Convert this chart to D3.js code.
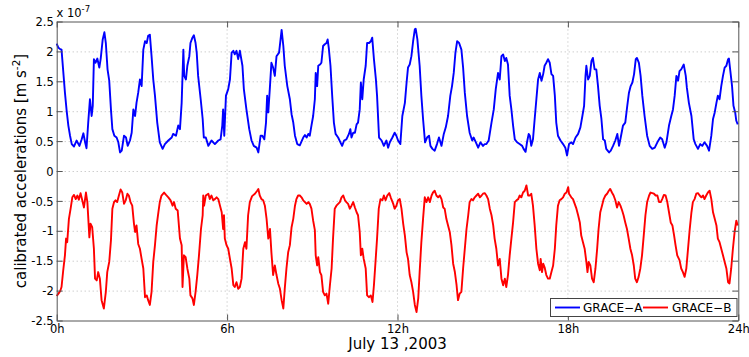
<!DOCTYPE html>
<html>
<head>
<meta charset="utf-8">
<script src="https://cdn.jsdelivr.net/npm/d3@7"></script>
<style>
  body { margin: 0; background: #fff; }
  svg { display: block; }
  text { font-family: "DejaVu Sans", sans-serif; fill: #000; }
</style>
</head>
<body>
<svg id="chart" width="749" height="357"></svg>
<script>
// Calibrated accelerations of GRACE-A and GRACE-B on 13 July 2003
// time in hours of the day, acceleration in units of 1e-7 m/s^2

const hourTicks = [0, 6, 12, 18, 24];
const hourTickLabels = ["0h", "6h", "12h", "18h", "24h"];
const accTicks = [-2.5, -2, -1.5, -1, -0.5, 0, 0.5, 1, 1.5, 2, 2.5];
const accTickLabels = ["-2.5", "-2", "-1.5", "-1", "-0.5", "0", "0.5", "1", "1.5", "2", "2.5"];
const seriesNames = ["GRACE\u2212A", "GRACE\u2212B"];
const seriesColors = ["#0000ff", "#ff0000"];

// GRACE-A: [hour, acceleration]
const graceA = [
  [0.00,2.13],[0.06,2.06],[0.12,2.04],[0.17,2.03],[0.23,1.67],[0.29,1.31],[0.35,1.01],[0.41,0.76],[0.47,0.59],[0.53,0.45],
  [0.61,0.41],[0.70,0.51],[0.80,0.42],[0.88,0.53],[0.94,0.63],[1.00,0.48],[1.05,0.38],[1.11,0.81],[1.17,1.20],[1.23,0.92],
  [1.27,1.09],[1.31,1.87],[1.37,1.81],[1.43,1.88],[1.50,1.73],[1.55,1.88],[1.62,2.20],[1.68,2.32],[1.73,2.14],[1.79,1.70],
  [1.85,1.51],[1.91,1.03],[1.96,0.70],[2.03,0.59],[2.11,0.56],[2.17,0.48],[2.23,0.31],[2.29,0.34],[2.37,0.59],[2.44,0.56],
  [2.50,0.42],[2.58,0.51],[2.64,0.64],[2.70,1.03],[2.76,0.92],[2.81,1.14],[2.87,1.31],[2.93,1.53],[2.99,1.42],[3.05,2.03],
  [3.11,2.17],[3.17,2.14],[3.22,2.26],[3.28,2.28],[3.34,1.92],[3.40,1.53],[3.46,1.26],[3.54,0.81],[3.63,0.48],[3.73,0.37],
  [3.81,0.45],[3.93,0.51],[4.05,0.56],[4.10,0.62],[4.20,0.59],[4.28,0.76],[4.34,0.70],[4.40,1.14],[4.46,2.03],[4.49,1.59],
  [4.55,1.53],[4.60,1.76],[4.67,1.92],[4.71,2.14],[4.78,2.23],[4.83,2.27],[4.89,2.14],[4.93,1.98],[4.98,1.59],[5.07,1.20],
  [5.14,0.87],[5.18,0.56],[5.25,0.56],[5.34,0.42],[5.45,0.51],[5.57,0.45],[5.69,0.51],[5.77,0.53],[5.83,0.76],[5.86,1.03],
  [5.90,0.59],[5.96,1.26],[6.04,1.37],[6.10,1.53],[6.16,1.98],[6.22,2.01],[6.27,1.95],[6.33,2.01],[6.39,1.87],[6.45,2.01],
  [6.54,1.76],[6.59,1.37],[6.68,1.03],[6.78,0.70],[6.86,0.51],[6.94,0.42],[7.04,0.39],[7.10,0.31],[7.18,0.59],[7.24,0.59],
  [7.31,0.53],[7.37,0.81],[7.41,1.26],[7.45,0.98],[7.51,1.42],[7.56,1.81],[7.62,1.73],[7.68,1.59],[7.74,1.92],[7.83,1.98],
  [7.92,2.36],[7.98,2.09],[8.03,1.76],[8.12,1.42],
  [8.21,1.20],[8.27,0.95],[8.33,0.81],[8.39,0.59],[8.47,0.45],[8.56,0.43],[8.68,0.56],[8.74,0.60],[8.80,0.56],[8.86,0.62],
  [8.91,0.59],[8.97,0.76],[9.03,0.92],[9.09,1.20],[9.12,1.64],[9.17,1.42],[9.21,1.76],[9.27,1.78],[9.32,1.81],[9.38,2.09],
  [9.44,2.12],[9.50,2.14],[9.54,2.20],[9.58,2.06],[9.64,1.76],[9.70,1.26],[9.76,0.81],[9.82,0.62],[9.91,0.56],[9.99,0.48],
  [10.05,0.42],[10.12,0.51],[10.20,0.53],[10.29,0.62],[10.34,0.70],[10.38,0.56],[10.44,0.64],[10.50,0.64],[10.56,0.78],[10.61,0.81],
  [10.67,1.03],[10.71,1.48],[10.76,1.20],[10.81,1.53],[10.88,1.76],[10.93,2.14],[11.00,2.14],[11.06,2.17],[11.11,2.23],[11.17,1.87],
  [11.24,1.53],[11.28,1.26],[11.35,0.56],[11.44,0.51],[11.52,0.42],[11.61,0.51],[11.67,0.39],[11.73,0.48],[11.82,0.56],[11.90,0.64],
  [11.96,0.59],[12.02,0.51],[12.10,0.45],[12.17,0.92],[12.26,1.14],[12.32,1.48],[12.37,1.73],[12.43,1.78],[12.49,1.92],[12.55,2.17],
  [12.61,2.37],[12.64,2.38],[12.70,2.20],[12.78,1.76],[12.84,1.26],[12.90,0.87],[12.97,0.48],[13.04,0.56],[13.11,0.59],[13.16,0.42],
  [13.23,0.37],[13.31,0.34],[13.39,0.45],[13.46,0.56],[13.55,0.42],[13.63,0.62],[13.70,0.73],[13.78,0.92],[13.86,1.26],[13.92,1.42],
  [13.98,1.64],[14.04,1.98],[14.10,2.17],[14.17,2.14],[14.25,2.03],[14.31,1.73],[14.37,1.31],[14.45,0.92],[14.54,0.64],[14.63,0.51],
  [14.68,0.56],[14.76,0.48],[14.84,0.39],[14.92,0.48],[15.01,0.42],[15.07,0.45],[15.13,0.45],[15.21,0.51],[15.31,0.81],[15.39,1.03],
  [15.46,1.37],[15.54,1.64],[15.60,1.53],[15.66,1.92],[15.72,1.95],[15.78,1.84],[15.83,1.89],[15.89,1.78],[15.95,1.26],[16.01,1.03],
  [16.07,0.76],[16.13,0.53],[16.21,0.48],[16.30,0.45],[16.39,0.42],[16.44,0.37],[16.51,0.32],[16.56,0.48],[16.62,0.62],
  [16.66,0.59],[16.71,0.42],[16.77,0.53],[16.83,0.87],[16.89,1.20],[16.95,1.53],[17.01,1.64],[17.07,1.51],[17.13,1.62],[17.18,1.76],
  [17.24,1.81],[17.30,1.87],[17.36,1.81],[17.42,1.62],[17.48,1.59],[17.54,1.26],[17.59,0.81],[17.65,0.59],[17.74,0.51],[17.83,0.45],
  [17.91,0.39],[17.97,0.26],[18.04,0.45],[18.12,0.48],[18.18,0.45],[18.27,0.56],[18.36,0.62],[18.44,0.73],[18.51,0.92],[18.57,1.09],
  [18.62,1.59],[18.65,1.76],[18.71,1.53],[18.77,1.59],[18.83,1.84],[18.88,1.89],[18.94,1.70],[19.00,1.70],[19.06,1.42],[19.12,1.09],
  [19.18,0.87],[19.24,0.53],[19.30,0.51],[19.35,0.37],[19.45,0.31],[19.51,0.34],[19.59,0.42],[19.67,0.51],[19.74,0.62],[19.80,0.42],
  [19.86,0.56],[19.94,0.76],[20.02,0.81],[20.09,1.09],[20.15,1.31],[20.21,1.42],[20.27,1.48],[20.33,1.62],[20.39,1.87],[20.43,1.89],
  [20.50,1.81],[20.56,1.59],[20.62,1.26],[20.70,0.92],[20.79,0.59],[20.88,0.42],[20.97,0.37],[21.06,0.39],[21.15,0.48],[21.25,0.56],
  [21.32,0.53],[21.41,0.39],[21.47,0.48],[21.56,0.76],[21.64,0.92],[21.70,1.03],[21.76,1.26],[21.82,1.59],[21.88,1.51],[21.93,1.67],
  [21.99,1.70],[22.08,1.78],[22.15,1.59],[22.19,1.39],[22.26,1.14],[22.35,0.92],[22.43,0.53],[22.49,0.45],[22.58,0.37],[22.66,0.45],
  [22.73,0.42],[22.81,0.48],[22.90,0.42],[22.97,0.34],[23.05,0.59],[23.11,0.87],[23.17,0.98],[23.23,1.14],[23.28,1.26],[23.34,1.20],
  [23.40,1.42],[23.46,1.59],[23.52,1.73],[23.58,1.76],[23.64,1.87],[23.67,1.88],[23.72,1.67],[23.78,1.42],[23.83,1.09],[23.89,0.98],
  [23.93,0.84],[23.98,0.78]
];

// GRACE-B: [hour, acceleration]
const graceB = [
  [0.00,-2.09],[0.06,-2.05],[0.12,-2.01],[0.17,-1.94],[0.23,-1.66],[0.29,-1.41],[0.33,-1.13],[0.37,-1.19],[0.43,-0.80],[0.49,-0.63],
  [0.55,-0.44],[0.61,-0.40],[0.67,-0.47],[0.73,-0.41],[0.78,-0.48],[0.84,-0.37],[0.90,-0.49],[0.96,-0.61],[1.03,-0.36],[1.08,-0.52],
  [1.15,-1.11],[1.19,-0.88],[1.25,-0.94],[1.31,-1.30],[1.35,-1.80],[1.41,-1.83],[1.46,-1.69],[1.52,-1.80],[1.58,-2.16],[1.66,-2.30],
  [1.73,-2.02],[1.78,-1.69],[1.85,-1.52],[1.91,-1.16],[1.96,-0.63],[2.02,-0.52],[2.07,-0.49],[2.13,-0.52],[2.19,-0.41],[2.25,-0.31],
  [2.31,-0.36],[2.37,-0.55],[2.43,-0.49],[2.49,-0.38],[2.54,-0.41],[2.60,-0.52],[2.66,-0.58],[2.72,-0.88],[2.76,-1.02],[2.81,-0.91],
  [2.87,-1.22],[2.93,-1.30],[2.99,-1.47],[3.05,-1.63],[3.11,-2.11],[3.17,-2.08],[3.22,-2.16],[3.28,-2.24],[3.34,-2.02],[3.40,-1.52],
  [3.46,-1.24],[3.52,-0.91],[3.58,-0.69],[3.63,-0.52],[3.69,-0.41],[3.78,-0.36],[3.85,-0.40],[3.93,-0.44],[4.01,-0.49],[4.08,-0.58],
  [4.13,-0.52],[4.19,-0.63],[4.26,-0.66],[4.34,-1.13],[4.40,-1.24],[4.43,-1.94],[4.48,-1.41],[4.54,-1.44],[4.60,-1.63],[4.67,-1.80],
  [4.71,-2.08],[4.78,-2.13],[4.83,-2.24],[4.89,-2.02],[4.95,-1.74],[5.01,-1.41],[5.08,-0.97],[5.14,-0.74],[5.16,-0.41],[5.19,-0.58],
  [5.25,-0.41],[5.34,-0.38],[5.39,-0.47],[5.45,-0.41],[5.51,-0.49],[5.57,-0.47],[5.63,-0.44],[5.69,-0.47],[5.75,-0.58],[5.81,-0.69],
  [5.86,-0.97],[5.89,-0.74],[5.92,-1.13],[5.98,-1.24],[6.04,-1.30],[6.10,-1.47],[6.16,-1.63],[6.22,-1.91],[6.27,-1.94],[6.33,-1.86],
  [6.39,-1.97],[6.45,-1.94],[6.51,-1.80],[6.57,-1.30],[6.63,-1.19],[6.68,-1.30],[6.74,-0.74],[6.80,-0.52],[6.88,-0.42],[6.98,-0.38],
  [7.06,-0.33],[7.10,-0.30],[7.15,-0.41],[7.21,-0.47],[7.27,-0.49],[7.33,-0.58],[7.39,-0.80],[7.45,-1.13],[7.51,-0.97],[7.56,-1.36],
  [7.62,-1.74],[7.68,-1.58],[7.74,-1.74],[7.80,-1.88],[7.86,-1.97],[7.92,-2.16],[7.98,-2.30],[8.03,-1.97],[8.09,-1.63],[8.15,-1.36],
  [8.21,-1.24],[8.27,-0.94],[8.33,-0.80],[8.39,-0.58],[8.44,-0.47],[8.50,-0.41],[8.56,-0.41],[8.62,-0.44],[8.68,-0.49],[8.74,-0.52],
  [8.80,-0.55],[8.86,-0.52],[8.91,-0.55],[8.97,-0.63],[9.03,-0.83],[9.09,-0.99],[9.12,-1.41],[9.17,-1.58],[9.21,-1.44],[9.27,-1.69],
  [9.32,-1.74],[9.38,-2.02],[9.44,-2.08],[9.50,-2.05],[9.56,-2.22],[9.62,-1.91],[9.68,-1.63],[9.73,-1.13],[9.79,-0.63],[9.85,-0.58],
  [9.91,-0.55],[9.97,-0.52],[10.03,-0.44],[10.09,-0.41],[10.15,-0.49],[10.20,-0.52],[10.26,-0.55],[10.32,-0.63],[10.38,-0.58],[10.44,-0.52],
  [10.50,-0.61],[10.56,-0.69],[10.61,-0.74],[10.67,-1.02],[10.71,-1.41],[10.76,-1.30],[10.81,-1.47],[10.88,-1.63],[10.93,-2.08],[11.00,-2.11],
  [11.06,-2.08],[11.12,-2.19],[11.17,-1.91],[11.21,-1.63],[11.28,-1.13],[11.34,-0.63],[11.40,-0.47],[11.47,-0.49],[11.52,-0.41],[11.58,-0.49],
  [11.64,-0.41],[11.71,-0.37],[11.76,-0.44],[11.85,-0.55],[11.90,-0.63],[11.96,-0.58],[12.02,-0.49],[12.08,-0.47],[12.14,-0.63],[12.20,-0.88],
  [12.26,-1.08],[12.32,-1.36],[12.37,-1.47],[12.43,-1.74],[12.49,-1.86],[12.55,-2.02],[12.61,-2.24],[12.67,-2.36],[12.73,-2.13],[12.78,-1.69],
  [12.84,-1.19],[12.90,-0.80],[12.96,-0.44],[13.02,-0.52],[13.08,-0.44],[13.14,-0.52],[13.20,-0.41],[13.25,-0.36],[13.31,-0.33],[13.37,-0.41],
  [13.43,-0.44],[13.49,-0.41],[13.55,-0.47],[13.61,-0.61],[13.66,-0.63],[13.72,-0.80],[13.78,-0.91],[13.84,-1.02],[13.90,-1.24],[13.96,-1.55],
  [14.02,-1.69],[14.08,-1.91],[14.13,-2.16],[14.19,-2.05],[14.25,-2.02],[14.31,-1.63],[14.37,-1.30],[14.43,-0.97],[14.49,-0.74],[14.54,-0.52],
  [14.60,-0.47],[14.66,-0.49],[14.72,-0.44],[14.78,-0.41],[14.84,-0.38],[14.90,-0.44],[14.96,-0.41],[15.01,-0.38],[15.07,-0.37],[15.13,-0.41],
  [15.19,-0.47],[15.25,-0.63],[15.31,-0.74],[15.37,-0.91],[15.42,-1.13],[15.48,-1.30],[15.54,-1.58],[15.60,-1.47],[15.66,-1.80],[15.72,-1.91],
  [15.78,-1.80],[15.83,-1.94],[15.89,-1.74],[15.95,-1.41],[16.01,-1.13],[16.07,-0.86],[16.13,-0.52],[16.19,-0.49],[16.25,-0.47],[16.30,-0.41],
  [16.36,-0.44],[16.42,-0.36],[16.48,-0.33],[16.54,-0.24],[16.60,-0.41],
  [16.66,-0.41],[16.71,-0.38],[16.77,-0.58],[16.83,-0.91],[16.89,-1.30],[16.95,-1.55],[17.01,-1.66],[17.04,-1.47],[17.09,-1.69],[17.13,-1.55],
  [17.18,-1.61],[17.24,-1.74],[17.30,-1.80],[17.36,-1.80],[17.42,-1.69],[17.48,-1.58],[17.54,-1.30],[17.59,-0.91],[17.65,-0.58],[17.71,-0.49],
  [17.77,-0.47],[17.83,-0.44],[17.89,-0.38],[17.95,-0.36],[18.01,-0.27],[18.04,-0.38],[18.12,-0.44],[18.18,-0.47],[18.24,-0.55],[18.30,-0.63],
  [18.36,-0.74],[18.42,-0.86],[18.47,-1.08],[18.53,-1.19],[18.59,-1.30],[18.65,-1.52],[18.69,-1.69],[18.73,-1.52],[18.79,-1.58],[18.85,-1.80],
  [18.91,-1.86],[18.97,-1.63],[19.03,-1.30],[19.08,-0.97],[19.14,-0.69],[19.20,-0.58],[19.26,-0.47],[19.32,-0.41],[19.38,-0.38],[19.44,-0.33],
  [19.49,-0.30],[19.55,-0.36],[19.61,-0.41],[19.67,-0.49],[19.73,-0.61],[19.79,-0.52],[19.85,-0.58],[19.91,-0.66],[19.96,-0.74],[20.02,-0.86],
  [20.08,-0.97],[20.14,-1.13],[20.20,-1.30],[20.26,-1.41],[20.32,-1.58],[20.37,-1.80],[20.43,-1.86],[20.49,-1.77],[20.55,-1.63],[20.61,-1.41],
  [20.67,-1.08],[20.73,-0.74],[20.79,-0.52],[20.86,-0.41],[20.91,-0.36],[20.97,-0.37],[21.03,-0.38],[21.09,-0.41],[21.15,-0.41],[21.21,-0.52],
  [21.27,-0.52],[21.32,-0.47],[21.38,-0.40],[21.44,-0.41],[21.50,-0.52],[21.56,-0.69],[21.62,-0.86],[21.68,-0.91],[21.74,-1.08],[21.79,-1.24],
  [21.85,-1.41],[21.93,-1.49],[21.99,-1.63],[22.05,-1.69],[22.11,-1.77],[22.17,-1.63],[22.23,-1.30],[22.29,-0.97],[22.35,-0.69],[22.40,-0.52],
  [22.46,-0.47],[22.52,-0.38],[22.58,-0.37],[22.64,-0.41],[22.70,-0.44],[22.76,-0.41],[22.81,-0.47],[22.87,-0.41],[22.93,-0.36],[22.99,-0.33],
  [23.05,-0.47],[23.11,-0.69],[23.17,-0.80],[23.23,-0.91],[23.28,-1.13],[23.34,-1.19],[23.40,-1.30],[23.46,-1.41],[23.52,-1.52],[23.58,-1.63],
  [23.64,-1.86],[23.69,-1.88],[23.75,-1.63],[23.81,-1.30],[23.87,-1.02],[23.93,-0.83],[23.98,-0.91]
];

const svg = d3.select("#chart");
const frame = { left: 56.7, right: 738.3, top: 21.5, bottom: 320.5 };

const x = d3.scaleLinear().domain([0, 24]).range([frame.left, frame.right]);
const y = d3.scaleLinear().domain([-2.5, 2.5]).range([frame.bottom, frame.top]);

const axisColor = "#555";
const gridColor = "#b8b8b8";

// dotted grid
const grid = svg.append("g");
grid.selectAll("line.gy")
  .data(accTicks.filter(d => d > -2.5 && d < 2.5))
  .join("line")
  .attr("x1", frame.left).attr("x2", frame.right)
  .attr("y1", d => y(d) + 0.5).attr("y2", d => y(d) + 0.5)
  .attr("stroke", gridColor).attr("stroke-width", 1)
  .attr("stroke-dasharray", "1,3");
grid.selectAll("line.gx")
  .data(hourTicks.filter(d => d > 0 && d < 24))
  .join("line")
  .attr("x1", d => x(d)).attr("x2", d => x(d))
  .attr("y1", frame.top).attr("y2", frame.bottom)
  .attr("stroke", gridColor).attr("stroke-width", 1)
  .attr("stroke-dasharray", "1,3");

// data curves
const line = d3.line().x(d => x(d[0])).y(d => y(d[1]));
[graceA, graceB].forEach((s, i) => {
  svg.append("path")
    .datum(s)
    .attr("d", line)
    .attr("fill", "none")
    .attr("stroke", seriesColors[i])
    .attr("stroke-width", 1.9)
    .attr("stroke-linejoin", "round");
});

// axes with inward ticks on all four sides
function styleAxis(g) {
  g.select(".domain").attr("stroke", axisColor);
  g.selectAll(".tick line").attr("stroke", axisColor);
  g.selectAll("text").style("font-family", "DejaVu Sans, sans-serif").style("font-size", "11.5px").attr("fill", "#000");
}

const leftAxis = svg.append("g").attr("transform", `translate(${frame.left},0)`)
  .call(d3.axisLeft(y).tickValues(accTicks).tickFormat((d, i) => accTickLabels[i]).tickSize(-6).tickSizeOuter(0).tickPadding(3));
styleAxis(leftAxis);
leftAxis.selectAll("text").attr("dy", "0.36em");

const rightAxis = svg.append("g").attr("transform", `translate(${frame.right},0)`)
  .call(d3.axisRight(y).tickValues(accTicks).tickFormat("").tickSize(-6).tickSizeOuter(0));
styleAxis(rightAxis);

const bottomAxis = svg.append("g").attr("transform", `translate(0,${frame.bottom})`)
  .call(d3.axisBottom(x).tickValues(hourTicks).tickFormat((d, i) => hourTickLabels[i]).tickSize(-6).tickSizeOuter(0));
styleAxis(bottomAxis);
bottomAxis.selectAll("text").attr("dy", null).attr("y", 12.8);

const topAxis = svg.append("g").attr("transform", `translate(0,${frame.top})`)
  .call(d3.axisTop(x).tickValues(hourTicks).tickFormat("").tickSize(-6).tickSizeOuter(0));
styleAxis(topAxis);

// exponent note
const expo = svg.append("text").attr("x", 56.5).attr("y", 17)
  .style("font-size", "11.5px");
expo.append("tspan").text("x 10");
expo.append("tspan").attr("dy", -5).style("font-size", "8.5px").text("-7");

// axis titles
svg.append("text")
  .attr("x", (frame.left + frame.right) / 2).attr("y", 349)
  .attr("text-anchor", "middle")
  .style("font-size", "15px")
  .text("July 13 ,2003");

const yTitle = svg.append("text")
  .attr("transform", `translate(26,${(frame.top + frame.bottom) / 2}) rotate(-90)`)
  .attr("text-anchor", "middle")
  .style("font-size", "15px");
yTitle.append("tspan").text("calibrated accelerations [m s");
yTitle.append("tspan").attr("dy", -6).style("font-size", "10.5px").text("-2");
yTitle.append("tspan").attr("dy", 6).text("]");

// legend
const legend = svg.append("g");
legend.append("rect")
  .attr("x", 550.5).attr("y", 298.5).attr("width", 186.5).attr("height", 18)
  .attr("fill", "#fff").attr("stroke", "#444").attr("stroke-width", 1);
const legendItems = [
  { x0: 555, x1: 580, tx: 583 },
  { x0: 643, x1: 668, tx: 672 }
];
legendItems.forEach((it, i) => {
  legend.append("line")
    .attr("x1", it.x0).attr("x2", it.x1).attr("y1", 307.5).attr("y2", 307.5)
    .attr("stroke", seriesColors[i]).attr("stroke-width", 1.9);
  legend.append("text")
    .attr("x", it.tx).attr("y", 312)
    .style("font-size", "12px")
    .text(seriesNames[i]);
});
</script>
</body>
</html>
